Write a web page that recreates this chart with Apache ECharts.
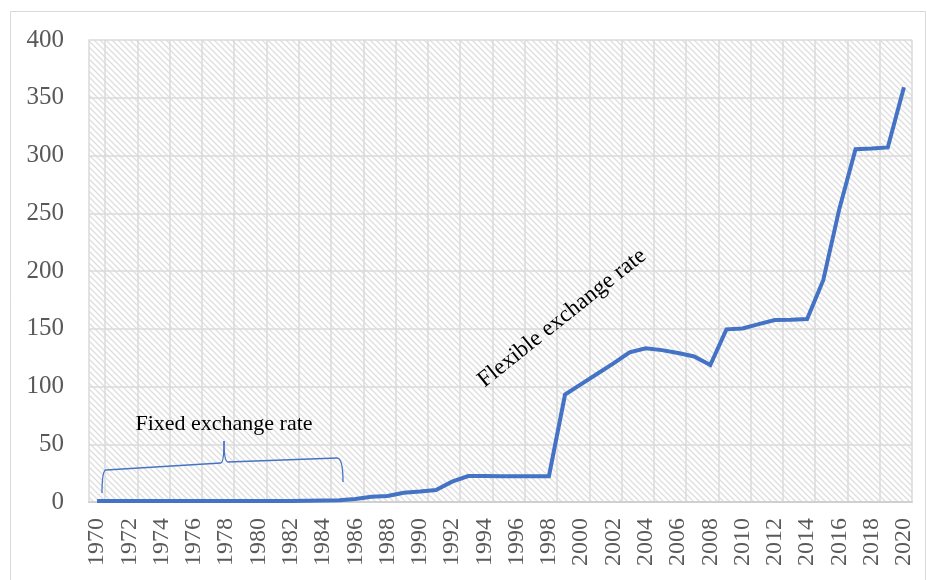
<!DOCTYPE html>
<html>
<head>
<meta charset="utf-8">
<script src="https://cdn.jsdelivr.net/npm/echarts@6/dist/echarts.min.js"></script>
<style>
  html, body { margin: 0; padding: 0; background: #ffffff; }
  #chart { width: 927px; height: 580px; }
</style>
</head>
<body>
<div id="chart"></div>
<script>
// Years on the horizontal axis
const years = [
  '1970','1971','1972','1973','1974','1975','1976','1977','1978','1979',
  '1980','1981','1982','1983','1984','1985','1986','1987','1988','1989',
  '1990','1991','1992','1993','1994','1995','1996','1997','1998','1999',
  '2000','2001','2002','2003','2004','2005','2006','2007','2008','2009',
  '2010','2011','2012','2013','2014','2015','2016','2017','2018','2019',
  '2020'
];

// Exchange rate per year
const rates = [
  0.8, 0.8, 0.8, 0.8, 0.8, 0.8, 0.8, 0.8, 0.8, 0.8,
  0.8, 0.8, 0.9, 1.0, 1.2, 1.6, 2.6, 4.6, 5.2, 8.0,
  9.0, 10.4, 17.6, 22.5, 22.5, 22.3, 22.3, 22.3, 22.3, 93.0,
  102, 111, 120, 129.5, 133, 131.5, 129, 126, 118.6, 149.5,
  150.3, 154, 157.6, 157.8, 158.4, 192, 254, 305.4, 306, 307,
  359
];

// Value axis ticks
const yTicks = [0, 50, 100, 150, 200, 250, 300, 350, 400];

const serif = '"Liberation Serif", "DejaVu Serif", serif';

// Fine diagonal hatch used as the plot background
function makeHatch() {
  const s = 6;
  const c = document.createElement('canvas');
  c.width = s; c.height = s;
  const g = c.getContext('2d');
  g.fillStyle = '#ffffff';
  g.fillRect(0, 0, s, s);
  g.strokeStyle = '#dedede';
  g.lineWidth = 1.3;
  g.beginPath();
  g.moveTo(-2, -2); g.lineTo(s + 2, s + 2);
  g.moveTo(-2, s - 2); g.lineTo(2, s + 2);
  g.moveTo(s - 2, -2); g.lineTo(s + 2, 2);
  g.stroke();
  return c;
}

const braceStyle = { stroke: '#4472C4', lineWidth: 1.3, fill: 'none' };
function curve(x1, y1, cx, cy, x2, y2) {
  return { type: 'bezierCurve', shape: { x1: x1, y1: y1, cpx1: cx, cpy1: cy, x2: x2, y2: y2 }, style: braceStyle, z: 10, silent: true };
}
function seg(x1, y1, x2, y2) {
  return { type: 'line', shape: { x1: x1, y1: y1, x2: x2, y2: y2 }, style: braceStyle, z: 10, silent: true };
}

const chart = echarts.init(document.getElementById('chart'), null, { renderer: 'canvas' });

chart.setOption({
  animation: false,
  backgroundColor: '#ffffff',
  grid: {
    left: 89, right: 15, top: 40, bottom: 78,
    show: true,
    backgroundColor: { image: makeHatch(), repeat: 'repeat' },
    borderWidth: 0
  },
  xAxis: {
    type: 'category',
    data: years,
    boundaryGap: true,
    axisLine: { show: true, lineStyle: { color: '#d0d0d0', width: 2 } },
    axisTick: { show: false },
    axisLabel: {
      interval: 1,
      rotate: 90,
      margin: 16,
      color: '#595959',
      fontFamily: serif,
      fontSize: 24
    },
    splitLine: {
      show: true,
      interval: function (i) { return i % 2 === 1; },
      lineStyle: { color: '#dadada', width: 1.5 }
    }
  },
  yAxis: {
    type: 'value',
    min: yTicks[0],
    max: yTicks[yTicks.length - 1],
    interval: 50,
    axisLine: { show: true, lineStyle: { color: '#dadada', width: 1.5 } },
    axisTick: { show: false },
    axisLabel: {
      margin: 25,
      color: '#595959',
      fontFamily: serif,
      fontSize: 25
    },
    splitLine: { show: true, lineStyle: { color: '#dadada', width: 1.5 } }
  },
  series: [{
    type: 'line',
    data: rates,
    showSymbol: false,
    symbol: 'none',
    lineStyle: { color: '#4472C4', width: 4, join: 'miter' },
    z: 5
  }],
  graphic: [
    {
      type: 'rect',
      shape: { x: 10.5, y: 11.5, width: 915, height: 600 },
      style: { fill: 'none', stroke: '#d9d9d9', lineWidth: 1 },
      silent: true, z: 0
    },
    // curly brace over the fixed-rate period
    curve(102, 493, 102, 470, 106, 470),
    seg(106, 470, 221, 463),
    curve(221, 463, 224, 462, 224, 441),
    curve(224, 441, 224, 462, 228, 462),
    seg(228, 462, 337, 458),
    curve(337, 458, 343, 458, 343, 482),
    {
      type: 'text',
      x: 224, y: 424,
      style: {
        text: 'Fixed exchange rate',
        fill: '#000000',
        font: '22px ' + serif,
        textAlign: 'center',
        textVerticalAlign: 'middle'
      },
      z: 10
    },
    {
      type: 'text',
      x: 562, y: 318,
      rotation: 38.6 * Math.PI / 180,
      style: {
        text: 'Flexible exchange rate',
        fill: '#000000',
        font: '23px ' + serif,
        textAlign: 'center',
        textVerticalAlign: 'middle'
      },
      z: 10
    }
  ]
});
</script>
</body>
</html>
